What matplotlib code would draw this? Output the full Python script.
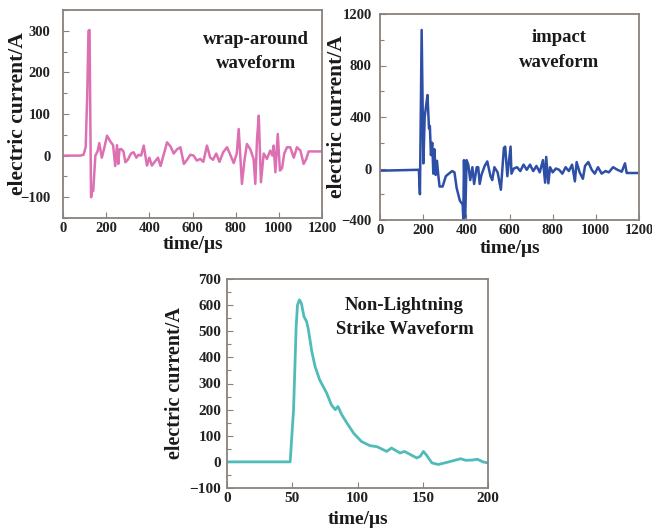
import matplotlib
matplotlib.use("Agg")
import matplotlib.pyplot as plt
from matplotlib.ticker import MultipleLocator, NullLocator

plt.rcParams['font.family'] = ['Liberation Serif', 'DejaVu Serif']

# ---- data: wrap-around waveform ----
wrap_t = [0, 80, 95, 105, 112, 118, 123, 126, 130, 136, 140, 150, 160, 168, 180, 192, 204,
          218, 232, 242, 250, 256, 262, 269, 280, 289, 300, 315, 327, 340, 350, 362, 374,
          389, 400, 412, 425, 440, 452, 468, 482, 498, 513, 528, 544, 560, 575, 590, 605,
          620, 636, 650, 667, 682, 695, 710, 725, 742, 760, 775, 791, 805, 814, 829, 840,
          852, 868, 883, 891, 899, 907, 917, 930, 945, 960, 970, 976, 984, 995, 1005, 1015,
          1025, 1038, 1053, 1069, 1084, 1100, 1115, 1127, 1138, 1150, 1170, 1200]
wrap_v = [0, 0, 2, 20, 140, 300, 302, 120, -100, -82, -85, 0, 10, 30, -5, 20, 48,
          35, 25, -25, 25, -20, 15, 16, 10, -16, -10, 5, 8, -5, 2, 0, 24,
          -24, -5, -24, -15, -5, -25, 5, 32, 22, 5, 15, 20, -20, -10, 2, 0,
          -12, -8, -15, 24, -5, -10, 5, -15, 8, 20, 2, -18, 5, 64, -68, -15,
          28, 15, -8, -68, 40, 96, -64, 5, -8, 12, 0, 24, -40, 52, -36, -30,
          5, 20, 20, -5, 20, 12, -20, -8, 10, 10, 10, 10]

# ---- data: impact waveform ----
imp_t = [0, 180, 185, 193, 201, 207, 213, 220, 227, 231, 236, 242, 247, 252, 258, 264, 270,
         276, 290, 305, 319, 334, 345, 355, 370, 383, 386, 389, 395, 401, 409, 418, 428,
         436, 448, 455, 462, 470, 485, 497, 512, 520, 530, 545, 560, 574, 580, 590, 605,
         609, 620, 635, 650, 665, 680, 695, 710, 725, 740, 755, 765, 770, 780, 788, 800,
         815, 830, 845, 860, 875, 890, 903, 911, 925, 940, 950, 965, 981, 995, 1010, 1027,
         1045, 1060, 1080, 1100, 1120, 1135, 1143, 1150, 1170, 1200]
imp_v = [-17, -10, -200, 1076, 40, 400, 480, 571, 311, 330, 104, 200, -40, 150, -50, 60, -50,
         -140, -140, -60, -40, -20, -30, -150, -250, -280, -390, 65, -380, 65, 30, -90, 10,
         -120, 10, 10, -120, -50, 20, 55, -60, -90, 10, -30, -165, 160, 170, -60, 170,
         -40, 0, 10, -20, 30, -10, 30, -20, 20, -30, 65, -110, 90, -115, 10, -30,
         0, -10, -40, 10, -20, 30, -100, 50, -30, -80, 20, 50, -10, -40, 10, -40,
         -20, -30, 10, -10, -25, 40, -35, -35, -35, -35]

# ---- data: non-lightning strike waveform ----
nls_t = [0, 48.4, 51, 53, 54, 55.5, 57, 59, 61, 62.4, 65, 67.5, 71, 76.4, 80, 83, 85, 88,
         92, 97, 103, 109.6, 115, 122.4, 126, 132.6, 136, 145.4, 148, 150.5, 153, 157, 162,
         170, 179, 183, 188, 192, 196, 200]
nls_v = [0, 0, 200, 518, 600, 620, 607, 556, 537, 505, 422, 365, 314, 263, 218, 200, 212, 180,
         148, 110, 78, 62, 58, 40, 53, 34, 40, 15, 21, 40, 25, -4, -10,
         0, 12, 6, 7, 10, 0, -4]

W, H = 652, 531
fig = plt.figure(figsize=(W / 100, H / 100), dpi=100)
fig.patch.set_facecolor('white')

frame_color = '#8a817c'


def add_ax(left, right, top, bottom):
    return fig.add_axes([left / W, 1 - bottom / H, (right - left) / W, (bottom - top) / H])


def style(ax, xlim, ylim, xmaj, ymaj, ymin, ypad, tfs):
    ax.set_xlim(*xlim)
    ax.set_ylim(*ylim)
    ax.xaxis.set_major_locator(MultipleLocator(xmaj))
    ax.yaxis.set_major_locator(MultipleLocator(ymaj))
    ax.yaxis.set_minor_locator(MultipleLocator(ymin))
    ax.xaxis.set_minor_locator(NullLocator())
    for s in ax.spines.values():
        s.set_color(frame_color)
        s.set_linewidth(1.3)
    ax.tick_params(which='both', direction='in', color=frame_color, width=0.8)
    ax.tick_params(which='major', length=4)
    ax.tick_params(which='minor', length=3)
    ax.tick_params(axis='y', pad=ypad)
    ax.tick_params(axis='x', pad=3)
    for lab in ax.get_xticklabels() + ax.get_yticklabels():
        lab.set_fontsize(tfs)
        lab.set_fontweight('bold')
        lab.set_color('#222222')


ann_kw = dict(fontsize=13.5, fontweight='bold', color='#1a1a1a', ha='center', va='center',
              linespacing=1.55)

# Panel 1
ax1 = add_ax(63, 322, 10, 218)
ax1.plot(wrap_t, wrap_v, color='#dd70b3', lw=1.8)
style(ax1, (0, 1200), (-150, 350), 200, 100, 50, 9, 10.5)
ax1.set_ylabel('electric current/A', fontsize=15.5, fontweight='bold', color='#1a1a1a')
ax1.yaxis.set_label_coords(-0.135, 0.5)
ax1.set_xlabel('time/\u03bcs', fontsize=14, fontweight='bold', color='#1a1a1a')
ax1.xaxis.set_label_coords(0.5, -0.085)
ax1.text(0.745, 0.80, 'wrap-around\nwaveform', transform=ax1.transAxes, **ann_kw)

# Panel 2
ax2 = add_ax(380, 639, 14, 220)
ax2.plot(imp_t, imp_v, color='#2d4fa6', lw=1.8)
style(ax2, (0, 1200), (-400, 1200), 200, 400, 200, 6, 10.5)
ax2.set_ylabel('electric current/A', fontsize=15.5, fontweight='bold', color='#1a1a1a')
ax2.yaxis.set_label_coords(-0.127, 0.5)
ax2.set_xlabel('time/\u03bcs', fontsize=14, fontweight='bold', color='#1a1a1a')
ax2.xaxis.set_label_coords(0.5, -0.095)
ax2.text(0.69, 0.825, 'impact\nwaveform', transform=ax2.transAxes, **ann_kw)

# Panel 3
ax3 = add_ax(227, 488, 279, 488)
ax3.plot(nls_t, nls_v, color='#4fbcb9', lw=2.0)
style(ax3, (0, 200), (-100, 700), 50, 100, 50, 4, 11)
ax3.set_ylabel('electric current/A', fontsize=14.5, fontweight='bold', color='#1a1a1a')
ax3.yaxis.set_label_coords(-0.161, 0.5)
ax3.set_xlabel('time/\u03bcs', fontsize=14, fontweight='bold', color='#1a1a1a')
ax3.xaxis.set_label_coords(0.5, -0.112)
ax3.text(0.68, 0.815, 'Non-Lightning\nStrike Waveform', transform=ax3.transAxes, **ann_kw)

fig.savefig('out.png', dpi=100, facecolor='white')
